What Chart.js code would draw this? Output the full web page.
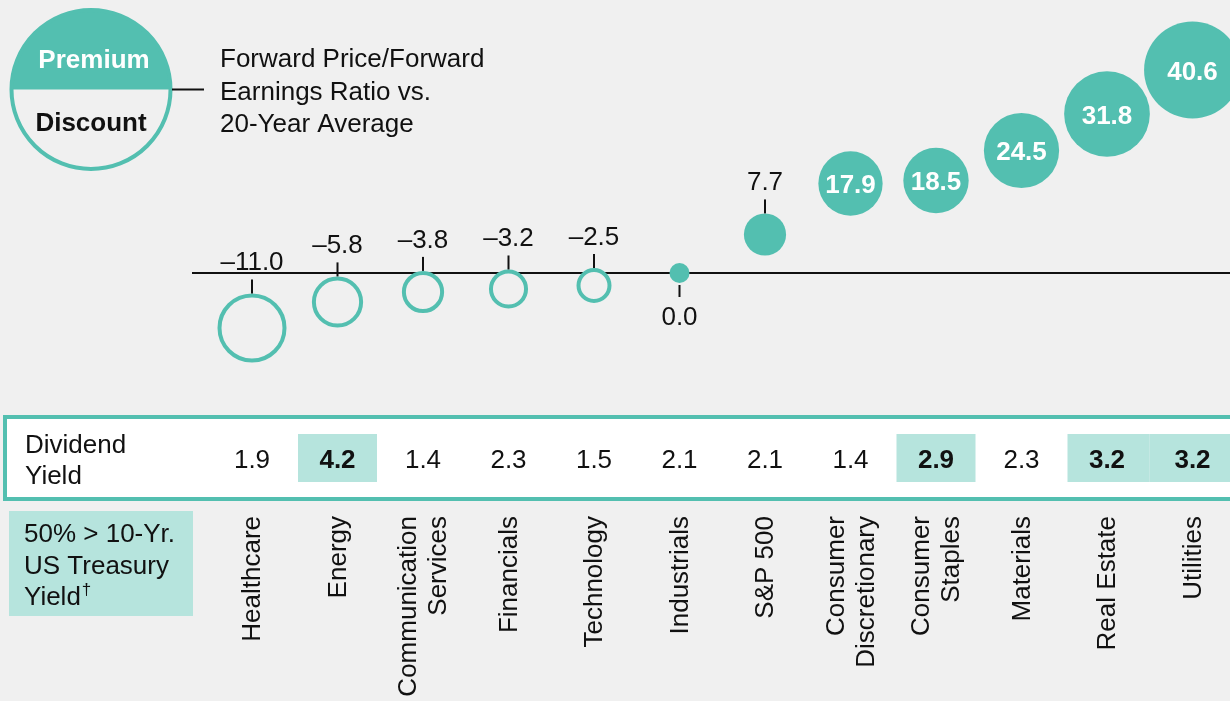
<!DOCTYPE html>
<html><head><meta charset="utf-8">
<script src="https://cdn.jsdelivr.net/npm/chart.js@4.4.1/dist/chart.umd.min.js"></script>
<style>html,body{margin:0;padding:0;background:#f0f0f0;overflow:hidden;font-family:"Liberation Sans",Arial,sans-serif}canvas{display:block}</style>
</head><body>
<canvas id="c" width="1230" height="701"></canvas>
<script>
// ---- data ----
const categories = ['Healthcare','Energy','Communication\nServices','Financials','Technology','Industrials','S&P 500','Consumer\nDiscretionary','Consumer\nStaples','Materials','Real Estate','Utilities'];
const premiumValues = [-11.0,-5.8,-3.8,-3.2,-2.5,0.0,7.7,17.9,18.5,24.5,31.8,40.6];
const dividendYields = [1.9,4.2,1.4,2.3,1.5,2.1,2.1,1.4,2.9,2.3,3.2,3.2];
const aboveTreasury = [false,true,false,false,false,false,false,false,true,false,true,true];
const legendTitle = ['Forward Price/Forward','Earnings Ratio vs.','20-Year Average'];
const legendPremium = 'Premium';
const legendDiscount = 'Discount';
const tableLabel = ['Dividend','Yield'];
const footnoteLines = ['50% > 10-Yr.','US Treasury','Yield'];
const footnoteMark = '\u2020';

// ---- styles ----
const TEAL = '#53bfb0', LIGHT = '#b6e4dd', BG = '#f0f0f0', INK = '#111111';
const FONT = '"Liberation Sans", Arial, sans-serif';
function fmt(v){ return (v < 0 ? '\u2013' : '') + Math.abs(v).toFixed(1); }
function bubbleRadius(v){ return v < 0 ? 9.8*Math.sqrt(-v) : Math.max(10, 7.6*Math.sqrt(v)); }
function valAt(ctx){ const i = ctx.dataIndex; return (i === undefined) ? 1 : premiumValues[i]; }

const decor = {
  id: 'decor',
  beforeDraw(chart){
    const ctx = chart.ctx, xs = chart.scales.x, ys = chart.scales.y;
    ctx.save();
    ctx.fillStyle = BG; ctx.fillRect(0,0,chart.width,chart.height);

    // legend circle
    const cx = 91, cy = 89.5, R = 79.5;
    ctx.beginPath(); ctx.arc(cx,cy,R,0,Math.PI*2); ctx.fillStyle = BG; ctx.fill();
    ctx.beginPath(); ctx.arc(cx,cy,R,Math.PI,Math.PI*2); ctx.closePath(); ctx.fillStyle = TEAL; ctx.fill();
    ctx.beginPath(); ctx.arc(cx,cy,R,0,Math.PI*2); ctx.lineWidth = 4; ctx.strokeStyle = TEAL; ctx.stroke();
    ctx.textAlign = 'center'; ctx.textBaseline = 'alphabetic';
    ctx.font = 'bold 26px ' + FONT; ctx.fillStyle = '#ffffff'; ctx.fillText(legendPremium, 94, 68);
    ctx.fillStyle = INK; ctx.fillText(legendDiscount, 91, 131);
    ctx.beginPath(); ctx.moveTo(172, 89.5); ctx.lineTo(204, 89.5); ctx.lineWidth = 2; ctx.strokeStyle = INK; ctx.stroke();
    ctx.textAlign = 'left'; ctx.font = '26px ' + FONT; ctx.fillStyle = INK;
    legendTitle.forEach((t,k)=> ctx.fillText(t, 220, 67 + k*32.5));

    // dividend table
    ctx.fillStyle = '#ffffff'; ctx.fillRect(5,417,1230,82);
    const half = 39.5;
    categories.forEach((c,i)=>{
      if(!aboveTreasury[i]) return;
      const x = xs.getPixelForValue(i);
      const l = (i>0 && aboveTreasury[i-1]) ? (x + xs.getPixelForValue(i-1))/2 : x - half;
      const r = (i<categories.length-1 && aboveTreasury[i+1]) ? (x + xs.getPixelForValue(i+1))/2 : x + half;
      ctx.fillStyle = LIGHT; ctx.fillRect(l, 434, r-l, 48);
    });
    ctx.lineWidth = 4; ctx.strokeStyle = TEAL; ctx.strokeRect(5,417,1230,82);
    ctx.fillStyle = INK; ctx.font = '26px ' + FONT; ctx.textAlign = 'left';
    ctx.fillText(tableLabel[0], 25, 453); ctx.fillText(tableLabel[1], 25, 484);
    ctx.textAlign = 'center';
    dividendYields.forEach((d,i)=>{
      ctx.font = (aboveTreasury[i] ? 'bold ' : '') + '26px ' + FONT;
      ctx.fillText(d.toFixed(1), xs.getPixelForValue(i), 468);
    });

    // footnote box
    ctx.fillStyle = LIGHT; ctx.fillRect(9,511,184,105);
    ctx.fillStyle = INK; ctx.textAlign = 'left'; ctx.font = '26px ' + FONT;
    footnoteLines.forEach((t,k)=> ctx.fillText(t, 24, 542 + k*31.5));
    const w = ctx.measureText(footnoteLines[2]).width;
    ctx.font = '17px ' + FONT; ctx.fillText(footnoteMark, 24 + w + 1, 595);

    // category labels (rotated)
    ctx.font = '26px ' + FONT; ctx.textAlign = 'right'; ctx.textBaseline = 'middle'; ctx.fillStyle = INK;
    categories.forEach((c,i)=>{
      const lines = c.split('\n'); const x = xs.getPixelForValue(i);
      ctx.save(); ctx.translate(x, 516); ctx.rotate(-Math.PI/2);
      lines.forEach((ln,k)=> ctx.fillText(ln, 0, (k - (lines.length-1)/2)*30 + 1));
      ctx.restore();
    });

    // zero line
    const y0 = ys.getPixelForValue(0);
    ctx.beginPath(); ctx.moveTo(chart.chartArea.left, y0); ctx.lineTo(chart.width, y0);
    ctx.lineWidth = 2; ctx.strokeStyle = INK; ctx.stroke();
    ctx.restore();
  },
  afterDatasetsDraw(chart){
    const ctx = chart.ctx; const meta = chart.getDatasetMeta(0);
    ctx.save(); ctx.textAlign = 'center'; ctx.textBaseline = 'alphabetic';
    ctx.strokeStyle = INK; ctx.lineWidth = 2;
    meta.data.forEach((el,i)=>{
      const v = premiumValues[i]; const x = el.x, y = el.y;
      const r = el.options.radius + (v < 0 ? el.options.borderWidth/2 : 0);
      const t = fmt(v);
      if (v >= 15){
        ctx.font = 'bold 26px ' + FONT; ctx.fillStyle = '#ffffff'; ctx.fillText(t, x, y + 9.5);
      } else if (v === 0){
        ctx.beginPath(); ctx.moveTo(x, y + r + 2); ctx.lineTo(x, y + r + 14); ctx.stroke();
        ctx.font = '26px ' + FONT; ctx.fillStyle = INK; ctx.fillText(t, x, y + r + 42);
      } else {
        ctx.beginPath(); ctx.moveTo(x, y - r); ctx.lineTo(x, y - r - 14); ctx.stroke();
        ctx.font = '26px ' + FONT; ctx.fillStyle = INK; ctx.fillText(t, x, y - r - 23);
      }
    });
    ctx.restore();
  }
};

function build(){
  new Chart(document.getElementById('c'), {
    type: 'bubble',
    data: {
      datasets: [{
        label: 'Forward P/E vs. 20-Year Average',
        data: premiumValues.map((v,i)=>({x:i, y:v})),
        clip: false,
        backgroundColor: ctx => valAt(ctx) < 0 ? BG : TEAL,
        borderColor: TEAL,
        borderWidth: ctx => valAt(ctx) < 0 ? 4 : 0,
        radius: ctx => bubbleRadius(valAt(ctx)),
        hoverRadius: 0
      }]
    },
    options: {
      responsive: false, animation: false, devicePixelRatio: 1, events: [],
      font: { family: FONT },
      layout: { autoPadding: false, padding: { left: 192, right: 0, top: 0, bottom: 0 } },
      plugins: { legend: { display: false }, tooltip: { enabled: false } },
      scales: {
        x: { type: 'linear', display: false, min: -0.7018, max: 11.4386 },
        y: { type: 'linear', display: false, min: -85.6, max: 54.6 }
      }
    },
    plugins: [decor]
  });
}
Chart.defaults.font.family = FONT;
Promise.all([
  document.fonts.load('26px "Liberation Sans"'),
  document.fonts.load('bold 26px "Liberation Sans"'),
  document.fonts.load('17px "Liberation Sans"')
]).then(build, build);
</script>
</body></html>
